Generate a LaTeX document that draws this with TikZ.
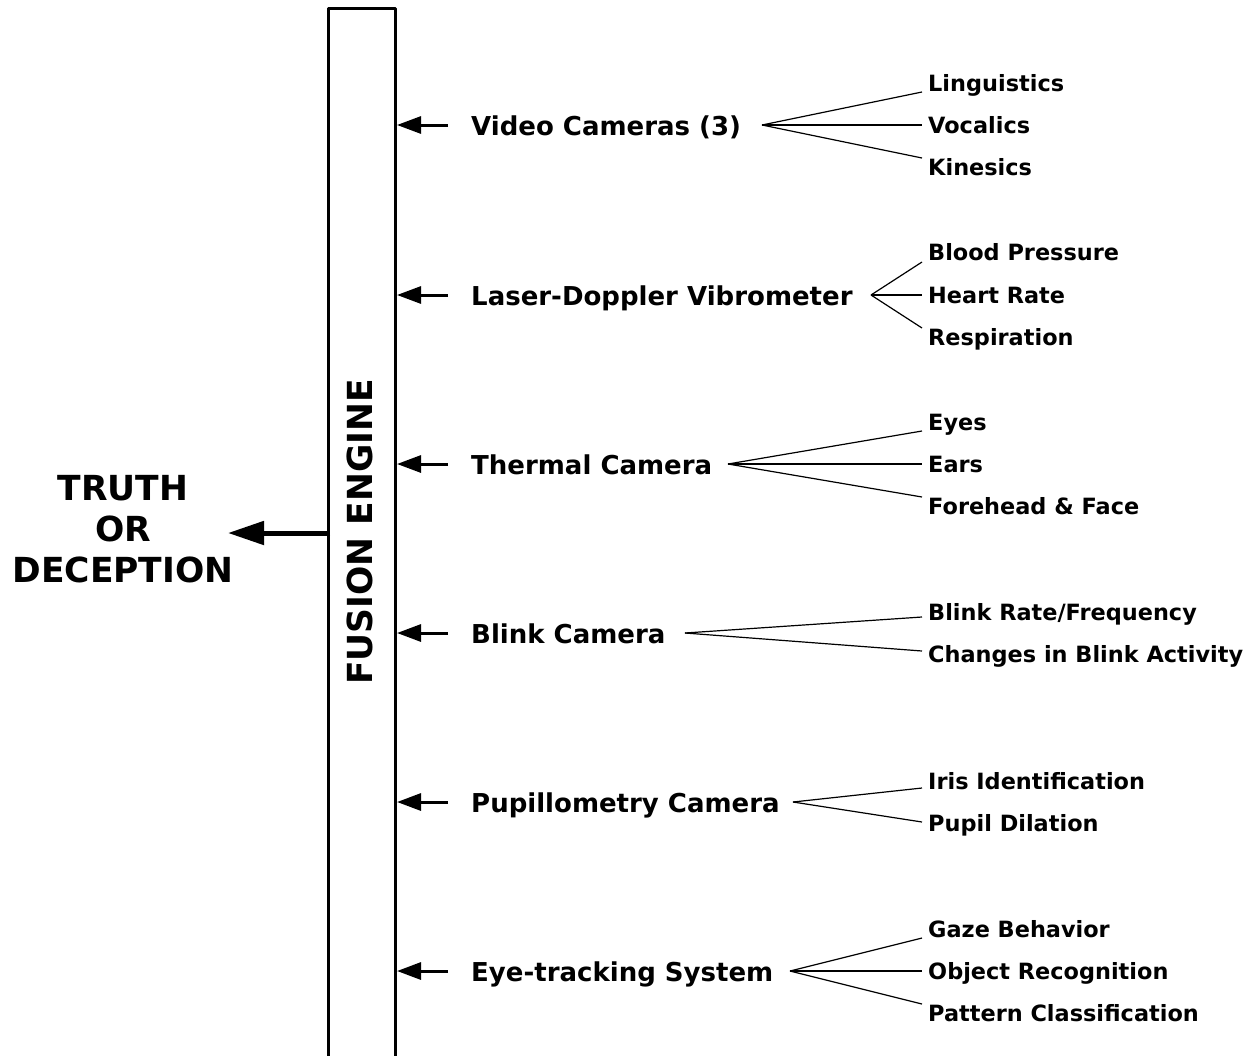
\documentclass[tikz,border=0pt]{standalone}
\usepackage{fontspec}
\setmainfont{DejaVu Sans}
\usetikzlibrary{arrows.meta,calc}
\begin{document}
\begin{tikzpicture}[x=1pt,y=-1pt,
  mainlab/.style={anchor=base west,inner sep=0pt,font=\fontsize{26}{30}\selectfont\bfseries},
  sublab/.style={anchor=base west,inner sep=0pt,font=\fontsize{22.4}{26}\selectfont\bfseries},
  biglab/.style={anchor=base,inner sep=0pt,font=\fontsize{34.5}{40}\selectfont\bfseries},
  inarrow/.style={-{Triangle[length=24pt,width=17pt]},line width=3pt},
  outarrow/.style={-{Triangle[length=36pt,width=23pt]},line width=5pt},
  fanline/.style={line width=1.2pt},
  boxline/.style={line width=3pt,line join=round}
]
\useasboundingbox (0,0) rectangle (1246,1055);
% fusion engine box (open at the bottom)
\draw[boxline] (328,1062) -- (328,8) -- (395,8) -- (395,1062);
\node[biglab,rotate=90] (fe) at (372,532) {FUSION ENGINE};
% output
\coordinate (outsrc) at (330,533);
\coordinate (outtip) at (228,533);
\draw[outarrow] (outsrc) -- (outtip);
\node[biglab] (t1) at (123,500) {TRUTH};
\node[biglab] (t2) at (123,541) {OR};
\node[biglab] (t3) at (123,582) {DECEPTION};
% rows
\foreach \name/\y/\txt in {r1/125/{Video Cameras (3)},r2/295/{Laser-Doppler Vibrometer},r3/464/{Thermal Camera},r4/633/{Blink Camera},r5/802/{Pupillometry Camera},r6/971/{Eye-tracking System}}{
  \node[mainlab] (\name) at (471,\y+10) {\txt};
  \coordinate (\name tip) at (397,\y);
  \coordinate (\name src) at (448,\y);
  \draw[inarrow] (\name src) -- (\name tip);
}
% fan start points
\coordinate (f1) at (762,125);
\coordinate (f2) at (871,295);
\coordinate (f3) at (728,464);
\coordinate (f4) at (685,633);
\coordinate (f5) at (793,802);
\coordinate (f6) at (790,971);
% sub labels
\node[sublab] (s11) at (928,91) {Linguistics};
\node[sublab] (s12) at (928,133) {Vocalics};
\node[sublab] (s13) at (928,175) {Kinesics};
\node[sublab] (s21) at (928,260) {Blood Pressure};
\node[sublab] (s22) at (928,303) {Heart Rate};
\node[sublab] (s23) at (928,345) {Respiration};
\node[sublab] (s31) at (928,430) {Eyes};
\node[sublab] (s32) at (928,472) {Ears};
\node[sublab] (s33) at (928,514) {Forehead \& Face};
\node[sublab] (s41) at (928,620) {Blink Rate/Frequency};
\node[sublab] (s42) at (928,662) {Changes in Blink Activity};
\node[sublab] (s51) at (928,789) {Iris Identification};
\node[sublab] (s52) at (928,831) {Pupil Dilation};
\node[sublab] (s61) at (928,937) {Gaze Behavior};
\node[sublab] (s62) at (928,979) {Object Recognition};
\node[sublab] (s63) at (928,1021) {Pattern Classification};
% fan lines
\foreach \f/\s/\dy in {f1/s11/-33,f1/s12/0,f1/s13/33,
                       f2/s21/-33,f2/s22/0,f2/s23/33,
                       f3/s31/-33,f3/s32/0,f3/s33/33,
                       f4/s41/-16,f4/s42/18,
                       f5/s51/-14,f5/s52/20,
                       f6/s61/-33,f6/s62/0,f6/s63/33}{
  \draw[fanline] let \p1=(\s.west), \p2=(\f) in (\f) -- ({\x1-6pt},{\y2-(\dy)*1pt});
}
\end{tikzpicture}
\end{document}
